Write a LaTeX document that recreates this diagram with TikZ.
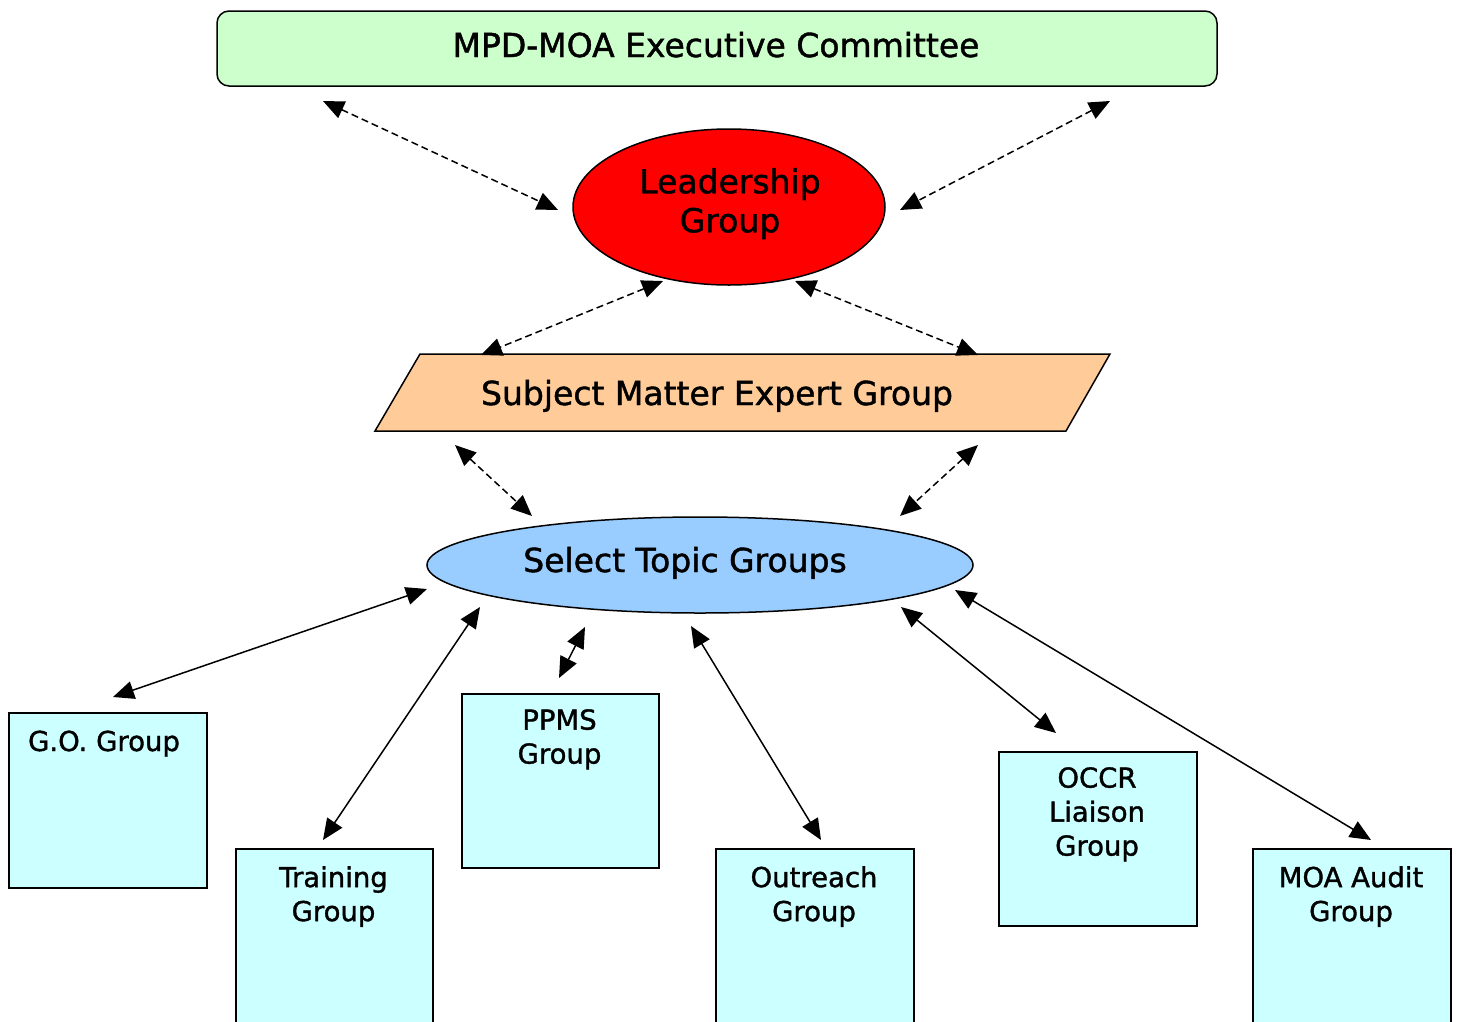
\documentclass[tikz,border=0pt]{standalone}
\usepackage{fontspec}
\setmainfont{DejaVu Sans}
\newfontfamily\diagfont{DejaVu Sans}[FakeBold=1.3]
\usetikzlibrary{arrows.meta,shapes.geometric}
\definecolor{execg}{HTML}{CCFFCC}
\definecolor{smeo}{HTML}{FFCC99}
\definecolor{stgb}{HTML}{99CCFF}
\definecolor{boxc}{HTML}{CCFFFF}
\definecolor{leadr}{HTML}{FF0000}
\begin{document}
\begin{tikzpicture}[x=1pt,y=-1pt,
  bigtext/.style={font=\diagfont\fontsize{33}{39}\selectfont, inner sep=0pt, align=center},
  smalltext/.style={font=\diagfont\fontsize{27.5}{34}\selectfont, inner sep=0pt, align=center},
  shapeline/.style={draw=black, line width=1.5pt},
  grpbox/.style={shapeline, fill=boxc, inner sep=0pt, anchor=north west},
  link/.style={line width=1.5pt, {Triangle[length=21pt,width=18pt]}-{Triangle[length=21pt,width=18pt]}},
  dlink/.style={link, dash pattern=on 7pt off 4pt}
]
\useasboundingbox (0,0) rectangle (1459,1021);
\clip (0,0) rectangle (1459,1021);

% Executive committee
\node[shapeline, fill=execg, rounded corners=12pt, minimum width=1000pt, minimum height=75pt] (exec) at (717,48.5) {};
\node[bigtext, anchor=base] (exect) at (716,57) {MPD-MOA Executive Committee};

% Leadership
\node[shapeline, fill=leadr, ellipse, minimum width=312pt, minimum height=156pt] (lead) at (729,207) {};
\node[bigtext, anchor=north] (leadt) at (730,168) {Leadership\\Group};

% Subject matter expert (parallelogram)
\draw[shapeline, fill=smeo] (420,354) -- (1110,354) -- (1066,431) -- (375,431) -- cycle;
\node[bigtext, anchor=base] (sme) at (717,405) {Subject Matter Expert Group};

% Select topic groups
\node[shapeline, fill=stgb, ellipse, minimum width=546pt, minimum height=96pt] (stg) at (700,565) {};
\node[bigtext, anchor=base] (stgt) at (685,572) {Select Topic Groups};

% Group boxes
\node[grpbox, minimum width=198pt, minimum height=175pt] (go) at (8,712) {};
\node[smalltext, anchor=base] (got) at (104,751) {G.O. Group};
\node[grpbox, minimum width=197pt, minimum height=200pt] (train) at (235,848) {};
\node[smalltext, anchor=north] (traint) at (333.5,866) {Training\\Group};
\node[grpbox, minimum width=197pt, minimum height=174pt] (ppms) at (461,693) {};
\node[smalltext, anchor=north] (ppmst) at (559.5,709) {PPMS\\Group};
\node[grpbox, minimum width=198pt, minimum height=200pt] (outr) at (715,848) {};
\node[smalltext, anchor=north] (outrt) at (814,866) {Outreach\\Group};
\node[grpbox, minimum width=198pt, minimum height=174pt] (occr) at (998,751) {};
\node[smalltext, anchor=north] (occrt) at (1097,767) {OCCR\\Liaison\\Group};
\node[grpbox, minimum width=198pt, minimum height=200pt] (moa) at (1252,848) {};
\node[smalltext, anchor=north] (moat) at (1351,866) {MOA Audit\\Group};

% connector end points
\coordinate (e1) at (323,101);  \coordinate (l1) at (558,210);
\coordinate (e2) at (1110,101); \coordinate (l2) at (900,210);
\coordinate (l3) at (663,281);  \coordinate (s1) at (481,355);
\coordinate (l4) at (795,281);  \coordinate (s2) at (978,355);
\coordinate (s3) at (455,445);  \coordinate (t1) at (532,516);
\coordinate (s4) at (978,445);  \coordinate (t2) at (900,516);
\coordinate (t3) at (427,589);  \coordinate (g1) at (113,697);
\coordinate (t4) at (480,607);  \coordinate (g2) at (323,840);
\coordinate (t5) at (585,627);  \coordinate (g3) at (559,678);
\coordinate (t6) at (691,626);  \coordinate (g4) at (821,840);
\coordinate (t7) at (901,607);  \coordinate (g5) at (1056,733);
\coordinate (t8) at (955,590);  \coordinate (g6) at (1371,840);

% dashed links
\draw[dlink] (e1) -- (l1);
\draw[dlink] (e2) -- (l2);
\draw[dlink] (l3) -- (s1);
\draw[dlink] (l4) -- (s2);
\draw[dlink] (s3) -- (t1);
\draw[dlink] (s4) -- (t2);

% solid links
\draw[link] (t3) -- (g1);
\draw[link] (t4) -- (g2);
\draw[link] (t5) -- (g3);
\draw[link] (t6) -- (g4);
\draw[link] (t7) -- (g5);
\draw[link] (t8) -- (g6);
\end{tikzpicture}
\end{document}
